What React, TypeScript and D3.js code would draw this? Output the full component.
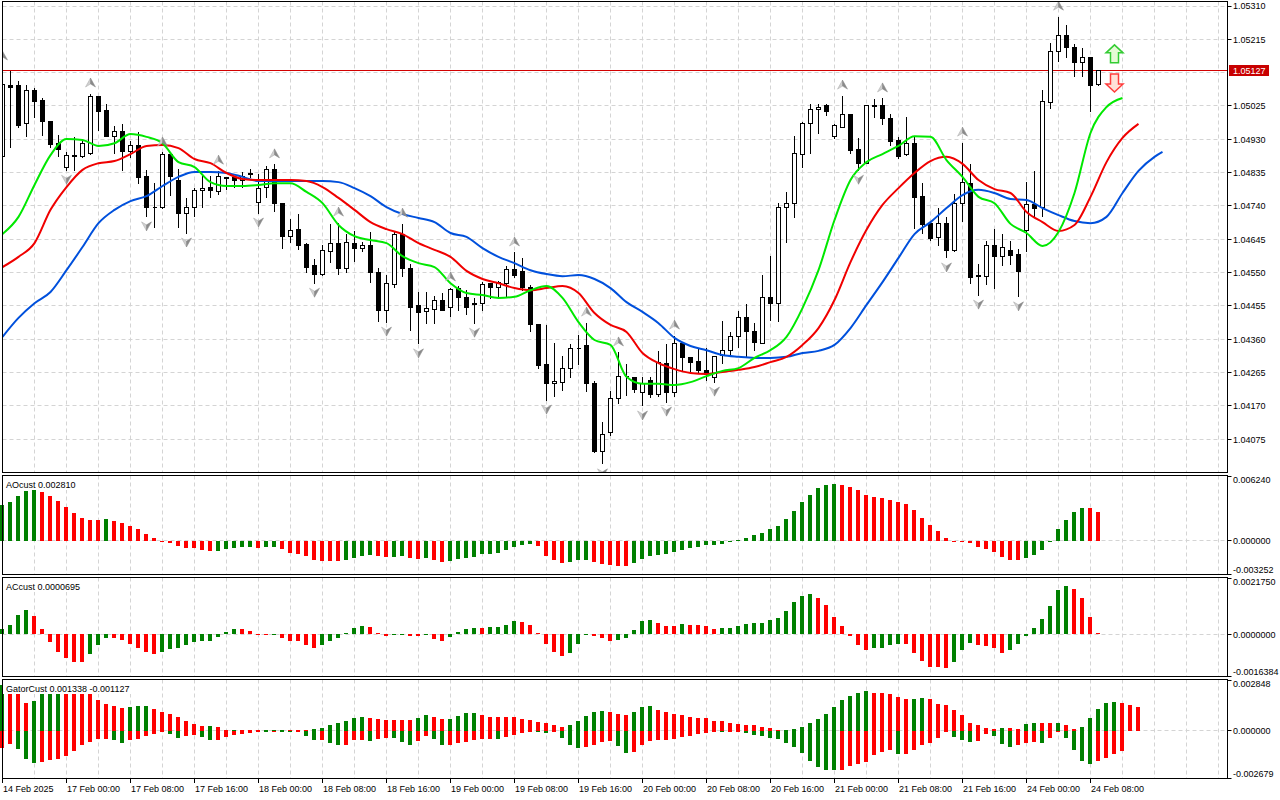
import React from "react";
import * as d3 from "d3";

// EURUSD H1, bar 0 = 14 Feb 2025 16:00
const opens = [
  1.0488, 1.05082, 1.05082, 1.04974, 1.0507, 1.05042, 1.04982, 1.04919, 1.04851, 1.04882,
  1.0488, 1.04891, 1.05051, 1.05011, 1.04939, 1.04951, 1.04894, 1.04911, 1.04823, 1.04737,
  1.04737, 1.04888, 1.04814, 1.0472, 1.04737, 1.04783, 1.04794, 1.0478, 1.0482, 1.0482,
  1.04814, 1.04831, 1.04751, 1.04794, 1.04845, 1.04748, 1.04654, 1.04674, 1.04629, 1.04569,
  1.04546, 1.04609, 1.04632, 1.04563, 1.04634, 1.0462, 1.04626, 1.04549, 1.04441, 1.04515,
  1.0466, 1.04563, 1.04455, 1.04438, 1.04446, 1.04472, 1.04452, 1.04506, 1.04478, 1.04458,
  1.04463, 1.04518, 1.04509, 1.0452, 1.0456, 1.04552, 1.04509, 1.04401, 1.04287, 1.04235,
  1.04238, 1.04278, 1.04335, 1.04341, 1.04235, 1.04039, 1.04093, 1.0419, 1.04255, 1.0425,
  1.04207, 1.04244, 1.04204, 1.0429, 1.04207, 1.04349, 1.04307, 1.04298, 1.04272, 1.0425,
  1.04315, 1.04329, 1.04367, 1.04421, 1.04381, 1.04349, 1.04478, 1.04463, 1.04737, 1.04746,
  1.04888, 1.04976, 1.05014, 1.05025, 1.04937, 1.04965, 1.05002, 1.049, 1.04862, 1.05025,
  1.05025, 1.04988, 1.04928, 1.04888, 1.04919, 1.04766, 1.04689, 1.04649, 1.04691, 1.04612,
  1.04748, 1.04805, 1.04538, 1.0454, 1.04626, 1.04595, 1.04612, 1.04603, 1.04669, 1.04743,
  1.04737, 1.05036, 1.05179, 1.05227, 1.05193, 1.0515, 1.05162, 1.05085,
];
const highs = [
  1.05139, 1.05125, 1.05099, 1.05085, 1.05079, 1.05048, 1.04982, 1.04945, 1.04894, 1.04937,
  1.04931, 1.05062, 1.05051, 1.05033, 1.04968, 1.04976, 1.04928, 1.04951, 1.04845, 1.04808,
  1.04894, 1.04894, 1.04848, 1.04763, 1.04794, 1.04831, 1.04828, 1.04842, 1.04825, 1.04825,
  1.04837, 1.04848, 1.04834, 1.04854, 1.0486, 1.04751, 1.04703, 1.0472, 1.04637, 1.04589,
  1.04629, 1.04689, 1.04694, 1.04663, 1.04669, 1.0464, 1.04666, 1.04566, 1.04546, 1.04666,
  1.04691, 1.04577, 1.04495, 1.04495, 1.04486, 1.04492, 1.04509, 1.04512, 1.04503, 1.04478,
  1.04526, 1.0452, 1.04529, 1.04569, 1.04609, 1.04592, 1.04515, 1.04401, 1.04401, 1.04352,
  1.04315, 1.04349, 1.04375, 1.04409, 1.04244, 1.04127, 1.04213, 1.04324, 1.04292, 1.04255,
  1.04253, 1.04255, 1.04327, 1.04349, 1.04372, 1.04355, 1.04312, 1.04335, 1.04338, 1.04315,
  1.04415, 1.04381, 1.04441, 1.04461, 1.04409, 1.04546, 1.046, 1.04751, 1.0478, 1.04942,
  1.04982, 1.05031, 1.05031, 1.05031, 1.04974, 1.05056, 1.05003, 1.04934, 1.05028, 1.05045,
  1.05048, 1.05005, 1.04937, 1.04994, 1.04937, 1.04808, 1.04694, 1.04737, 1.04709, 1.04777,
  1.04922, 1.0486, 1.04575, 1.04643, 1.04677, 1.04663, 1.04643, 1.0462, 1.04811, 1.04842,
  1.05073, 1.05207, 1.05281, 1.05256, 1.05204, 1.05193, 1.05163, 1.05128,
];
const lows = [
  1.04871, 1.04908, 1.04965, 1.04937, 1.04991, 1.04942, 1.04908, 1.0488, 1.04842, 1.04842,
  1.04877, 1.04888, 1.04954, 1.04937, 1.04891, 1.04842, 1.04877, 1.04805, 1.04709, 1.0468,
  1.04734, 1.04771, 1.0468, 1.04663, 1.04711, 1.04737, 1.04763, 1.04774, 1.04788, 1.04794,
  1.04794, 1.0482, 1.0472, 1.04763, 1.04723, 1.0462, 1.04637, 1.04617, 1.04549, 1.0452,
  1.04543, 1.0458, 1.04546, 1.04549, 1.04583, 1.04609, 1.04523, 1.04412, 1.04409, 1.04509,
  1.04538, 1.04384, 1.04347, 1.04406, 1.04406, 1.04441, 1.04424, 1.04443, 1.04432, 1.04406,
  1.04443, 1.04475, 1.04478, 1.04483, 1.04535, 1.045, 1.04381, 1.04278, 1.04187, 1.04196,
  1.04213, 1.0425, 1.04287, 1.0421, 1.04036, 1.04005, 1.04087, 1.04178, 1.04201, 1.04207,
  1.0417, 1.04193, 1.04196, 1.04181, 1.04196, 1.04267, 1.04267, 1.04264, 1.04244, 1.04238,
  1.04292, 1.0431, 1.04338, 1.04312, 1.04329, 1.04347, 1.04415, 1.04412, 1.04637, 1.04706,
  1.04851, 1.04891, 1.04948, 1.04999, 1.04931, 1.04963, 1.04891, 1.04842, 1.0486, 1.04991,
  1.04971, 1.04911, 1.04874, 1.04885, 1.04677, 1.04663, 1.04643, 1.04626, 1.04592, 1.04609,
  1.04697, 1.0452, 1.04486, 1.04515, 1.04506, 1.04569, 1.04572, 1.04481, 1.04609, 1.04711,
  1.04711, 1.05019, 1.05153, 1.05162, 1.0511, 1.0511, 1.05008, 1.05082,
];
const closes = [
  1.05085, 1.05079, 1.04968, 1.0507, 1.05039, 1.04982, 1.04914, 1.04902, 1.04885, 1.04883,
  1.04919, 1.05051, 1.05008, 1.04939, 1.04951, 1.04894, 1.04911, 1.0482, 1.04737, 1.04736,
  1.04888, 1.04823, 1.0472, 1.04737, 1.04783, 1.04791, 1.04783, 1.04823, 1.04817, 1.04814,
  1.04825, 1.04832, 1.04791, 1.04845, 1.04748, 1.04654, 1.04671, 1.04626, 1.04566, 1.04546,
  1.04612, 1.04634, 1.04563, 1.04637, 1.0462, 1.04626, 1.04549, 1.04441, 1.0452, 1.0466,
  1.04563, 1.04452, 1.04435, 1.04449, 1.04472, 1.04443, 1.04503, 1.04478, 1.04452, 1.04463,
  1.04515, 1.04509, 1.04523, 1.0456, 1.04543, 1.04509, 1.04401, 1.04284, 1.04235, 1.04241,
  1.04278, 1.04335, 1.04334, 1.04235, 1.04039, 1.0409, 1.0419, 1.04255, 1.04253, 1.04218,
  1.04233, 1.04204, 1.04295, 1.04207, 1.04349, 1.04307, 1.04295, 1.0427, 1.04261, 1.04312,
  1.04329, 1.04367, 1.04421, 1.04381, 1.04352, 1.04478, 1.04463, 1.04737, 1.04746, 1.04891,
  1.04976, 1.05014, 1.05022, 1.05008, 1.04968, 1.05002, 1.04897, 1.04862, 1.05025, 1.05024,
  1.04988, 1.04925, 1.04882, 1.04919, 1.04763, 1.04686, 1.04646, 1.04689, 1.04612, 1.04748,
  1.04808, 1.04535, 1.04543, 1.04626, 1.04595, 1.04623, 1.046, 1.04552, 1.04743, 1.04734,
  1.05039, 1.05179, 1.05227, 1.05193, 1.0515, 1.05162, 1.05082, 1.05127,
];

const fractalUp = [0, 11, 20, 27, 34, 42, 50, 56, 64, 73, 77, 84, 105, 110, 120, 132];
const fractalDown = [8, 18, 23, 32, 39, 48, 52, 59, 68, 75, 80, 83, 89, 107, 118, 122, 127];

// Alligator, read every 2 bars (already shifted as drawn)
const lips = [
  1.0466, 1.04709, 1.048, 1.04885, 1.04931, 1.04928, 1.04911, 1.04919, 1.04945, 1.04937,
  1.04919, 1.04865, 1.04851, 1.04808, 1.04797, 1.04797, 1.048, 1.04805, 1.04805, 1.0478,
  1.04748, 1.04686, 1.04654, 1.04643, 1.04634, 1.04597, 1.04577, 1.04566, 1.0452, 1.04492,
  1.04486, 1.04478, 1.04481, 1.045, 1.04512, 1.04478, 1.04409, 1.04358, 1.04344, 1.04253,
  1.04233, 1.04233, 1.0423, 1.04238, 1.04255, 1.0427, 1.04278, 1.04307, 1.04329, 1.04367,
  1.04449, 1.04557, 1.047, 1.04814, 1.04865, 1.04888, 1.04911, 1.04939, 1.04937, 1.04871,
  1.04823, 1.04766, 1.04748, 1.04689, 1.04663, 1.04626, 1.04666, 1.04777, 1.04948, 1.05022,
  1.05048,
];
const teeth = [
  1.04566, 1.04595, 1.04634, 1.04729, 1.04794, 1.04843, 1.04862, 1.04868, 1.04888, 1.04911,
  1.04914, 1.04905, 1.04874, 1.04862, 1.04834, 1.04817, 1.04814, 1.04814, 1.04814, 1.04811,
  1.04794, 1.04763, 1.04729, 1.04694, 1.04674, 1.0466, 1.04634, 1.04615, 1.04595, 1.04555,
  1.04532, 1.0452, 1.04506, 1.045, 1.04506, 1.04512, 1.04492, 1.04435, 1.04401, 1.04381,
  1.04321, 1.04292, 1.04275, 1.04264, 1.04261, 1.04267, 1.04273, 1.04281, 1.04295, 1.0431,
  1.04344, 1.04392, 1.04472, 1.0458, 1.04672, 1.04743, 1.04791, 1.04834, 1.04868, 1.0488,
  1.0486, 1.04814, 1.04788, 1.04777, 1.04723, 1.04694, 1.04669, 1.04686, 1.04766, 1.04865,
  1.04934, 1.04974,
];
const jaws = [
  1.04367, 1.04421, 1.04463, 1.04495, 1.04557, 1.04623, 1.04691, 1.04729, 1.04754, 1.04768,
  1.04797, 1.04823, 1.04837, 1.04837, 1.04834, 1.04823, 1.04811, 1.04811, 1.04811, 1.04811,
  1.04811, 1.04808, 1.04791, 1.04768, 1.04737, 1.04717, 1.04706, 1.04694, 1.04663, 1.04652,
  1.0462, 1.04595, 1.04577, 1.04557, 1.04546, 1.0454, 1.04543, 1.04532, 1.04506, 1.04466,
  1.04438, 1.04406, 1.04364, 1.04341, 1.04329, 1.04315, 1.0431, 1.04307, 1.04307, 1.0431,
  1.04321, 1.04327, 1.04344, 1.04392, 1.04458, 1.04523, 1.04592, 1.0466, 1.04694, 1.04734,
  1.04771, 1.04786, 1.04777, 1.0476, 1.04757, 1.04734, 1.04714, 1.04697, 1.04691, 1.04709,
  1.04777, 1.0484, 1.0488,
];
const jawsLastBar = 145;
const jawsLast = 1.04894;

const ao = [
  0.003469, 0.003758, 0.004308, 0.004818, 0.004915, 0.004722, 0.004308, 0.003855, 0.003276, 0.002669,
  0.002245, 0.002024, 0.001995, 0.002091, 0.001898, 0.001706, 0.001417, 0.001127, 0.000646, 0.00026,
  -0.000048, -0.000164, -0.000482, -0.000646, -0.000665, -0.000867, -0.000964, -0.000944, -0.000742, -0.000646,
  -0.000578, -0.000559, -0.000646, -0.000626, -0.000607, -0.000742, -0.001127, -0.001224, -0.001446, -0.001831,
  -0.001927, -0.001947, -0.001966, -0.001831, -0.001667, -0.001446, -0.001349, -0.001446, -0.001542, -0.001513,
  -0.001474, -0.001609, -0.001706, -0.001609, -0.001831, -0.002024, -0.001927, -0.001706, -0.001609, -0.001542,
  -0.001282, -0.001224, -0.001127, -0.000896, -0.000578, -0.000385, -0.00026, -0.000482, -0.001446, -0.00186,
  -0.002091, -0.002024, -0.00186, -0.001831, -0.001995, -0.002245, -0.002313, -0.002409, -0.002438, -0.002149,
  -0.001764, -0.001446, -0.001349, -0.001224, -0.00106, -0.000896, -0.000703, -0.000578, -0.000414, -0.000366,
  -0.000318, -0.000125, 0.000067, 0.000289, 0.000549, 0.000742, 0.001127, 0.001417, 0.002091, 0.002862,
  0.003729, 0.004404, 0.005079, 0.005464, 0.005493, 0.005445, 0.005271, 0.004886, 0.004462, 0.004269,
  0.004115, 0.003951, 0.003729, 0.003537, 0.002987, 0.002216, 0.001513, 0.000935, 0.00026, -0.000048,
  -0.000096, -0.000193, -0.000549, -0.000771, -0.00106, -0.001513, -0.001831, -0.00186, -0.001638, -0.001378,
  -0.000896, -0.000067, 0.001127, 0.001995, 0.002766, 0.00318, 0.003161, 0.00281,
];
const ac = [
  0.0002, 0.000351, 0.000742, 0.000937, 0.000703, 0.000195, -0.000301, -0.000675, -0.000937, -0.001066,
  -0.001081, -0.000781, -0.000429, -0.000156, -0.00016, -0.000234, -0.00039, -0.000546, -0.000691, -0.000781,
  -0.000691, -0.000585, -0.000546, -0.000429, -0.000301, -0.000262, -0.000254, -0.000105, 0.000105, 0.000195,
  0.000191, 0.000129, -0.000027, -0.000031, -0.00002, -0.000129, -0.000262, -0.000265, -0.000418, -0.000535,
  -0.000418, -0.000262, -0.000129, 0.000027, 0.000234, 0.000312, 0.000273, 0.000047, -0.000066, -0.000027,
  -0.000012, -0.000051, -0.000055, -0.000012, -0.000168, -0.000262, -0.000105, 0.000078, 0.000195, 0.000234,
  0.00023, 0.000285, 0.000289, 0.000351, 0.000507, 0.000468, 0.000351, 0.000027, -0.000363, -0.000691,
  -0.000847, -0.000714, -0.00039, -0.000012, -0.000066, -0.000129, -0.000262, -0.000222, -0.000144, 0.000156,
  0.000507, 0.000546, 0.000429, 0.000312, 0.000308, 0.00039, 0.000351, 0.000347, 0.000312, 0.000195,
  0.000234, 0.000246, 0.000324, 0.00039, 0.000429, 0.000433, 0.000546, 0.000624, 0.000909, 0.001261,
  0.001483, 0.001561, 0.001405, 0.001132, 0.000664, 0.000312, -0.000051, -0.000418, -0.000613, -0.000535,
  -0.000531, -0.000418, -0.000379, -0.000383, -0.000714, -0.001054, -0.001276, -0.00128, -0.001315, -0.001081,
  -0.000613, -0.00034, -0.000418, -0.000468, -0.000535, -0.00073, -0.000613, -0.000379, -0.000066, 0.000262,
  0.000585, 0.001093, 0.001706, 0.001862, 0.001756, 0.001405, 0.000664, 0.0000695,
];
const gatorUpper = [
  0.0026, 0.002538, 0.00207, 0.001596, 0.001692, 0.002538, 0.002594, 0.002611, 0.002594, 0.002583,
  0.002572, 0.002538, 0.001765, 0.00154, 0.00141, 0.00128, 0.001354, 0.001393, 0.001399, 0.001258,
  0.001089, 0.000942, 0.00079, 0.000564, 0.000378, 0.000265, 0.000271, 0.000226, 0.000039, 0.000073,
  0.000056, 0.000039, 0.000034, 0.000045, 0.000056, 0.000073, 0.000056, 0.000039, 0.000017, 0.000113,
  0.000152, 0.000338, 0.000451, 0.000564, 0.00075, 0.000756, 0.000716, 0.00066, 0.000637, 0.00062,
  0.000603, 0.000598, 0.000716, 0.000902, 0.000807, 0.00066, 0.000666, 0.000829, 0.000998, 0.001004,
  0.000902, 0.000807, 0.00079, 0.000773, 0.000767, 0.00066, 0.000603, 0.000525, 0.000434, 0.000338,
  0.000243, 0.000338, 0.000564, 0.000829, 0.001055, 0.001111, 0.001089, 0.000942, 0.000902, 0.001055,
  0.001354, 0.00141, 0.001201, 0.001055, 0.000976, 0.000902, 0.000807, 0.00075, 0.000716, 0.000581,
  0.000547, 0.000468, 0.000412, 0.000338, 0.000333, 0.000209, 0.000152, 0.000039, 0.000073, 0.00013,
  0.000243, 0.000468, 0.00066, 0.000942, 0.001354, 0.001731, 0.001974, 0.00216, 0.002239, 0.00216,
  0.002154, 0.00207, 0.001918, 0.001788, 0.001805, 0.001844, 0.001788, 0.00154, 0.00145, 0.001167,
  0.000902, 0.000468, 0.000338, 0.000152, 0.000096, 0.000186, 0.000152, 0.000096, 0.000378, 0.000468,
  0.000434, 0.000429, 0.000468, 0.000321, 0.00013, 0.000243, 0.00075, 0.001258, 0.001596, 0.001653,
  0.001596, 0.00145, 0.001338,
];
// lower histogram, magnitudes (drawn below zero)
const gatorLower = [
  0.000942, 0.00075, 0.001032, 0.001596, 0.001805, 0.001731, 0.001653, 0.001596, 0.00141, 0.001128,
  0.00079, 0.00062, 0.000468, 0.000462, 0.000508, 0.00066, 0.000491, 0.000468, 0.000282, 0.000152,
  0.000039, 0.000152, 0.000378, 0.000282, 0.000226, 0.000338, 0.000508, 0.000496, 0.000321, 0.000226,
  0.000152, 0.000096, 0.000039, 0.000045, 0.000028, 0.000056, 0.000062, 0.000017, 0.000282, 0.000508,
  0.000502, 0.000677, 0.000807, 0.00079, 0.000508, 0.000502, 0.000564, 0.000479, 0.000412, 0.000423,
  0.00062, 0.00079, 0.000564, 0.000282, 0.000468, 0.00079, 0.000784, 0.000677, 0.00062, 0.000508,
  0.000434, 0.000429, 0.000468, 0.000338, 0.000226, 0.000113, 0.000039, 0.000056, 0.000113, 0.000039,
  0.000412, 0.00079, 0.000976, 0.000902, 0.00079, 0.000637, 0.000564, 0.000846, 0.001258, 0.001184,
  0.00079, 0.000564, 0.000508, 0.000491, 0.000434, 0.000355, 0.000265, 0.000169, 0.000096, 0.000039,
  0.000056, 0.000045, 0.000039, 0.00013, 0.000226, 0.000282, 0.000412, 0.000468, 0.000694, 0.000902,
  0.001258, 0.001692, 0.002013, 0.002183, 0.002217, 0.0022, 0.001991, 0.001878, 0.001731, 0.001371,
  0.001167, 0.001089, 0.001314, 0.00128, 0.001089, 0.00079, 0.00066, 0.000378, 0.000056, 0.000338,
  0.000525, 0.000603, 0.000564, 0.000186, 0.000282, 0.00075, 0.000902, 0.00079, 0.000677, 0.00062,
  0.000677, 0.000378, 0.000056, 0.000378, 0.001089, 0.001692, 0.001844, 0.001692, 0.00154, 0.001314,
  0.001127,
];

const priceTicks = [
  1.0531, 1.05215, 1.0512, 1.05025, 1.0493, 1.04835, 1.0474, 1.04645, 1.0455, 1.04455,
  1.0436, 1.04265, 1.0417, 1.04075,
];
const lastPrice = 1.05127;
const aoTicks = [0.00624, 0, -0.003252];
const acTicks = [0.002175, 0, -0.0016384];
const gatorTicks = [0.002848, 0, -0.002679];
const timeLabels = [
  "14 Feb 2025", "17 Feb 00:00", "17 Feb 08:00", "17 Feb 16:00", "18 Feb 00:00", "18 Feb 08:00",
  "18 Feb 16:00", "19 Feb 00:00", "19 Feb 08:00", "19 Feb 16:00", "20 Feb 00:00", "20 Feb 08:00",
  "20 Feb 16:00", "21 Feb 00:00", "21 Feb 08:00", "21 Feb 16:00", "24 Feb 00:00", "24 Feb 08:00",
];
const timeLabelBars = [0, 8, 16, 24, 32, 40, 48, 56, 64, 72, 80, 88, 96, 104, 112, 120, 128, 136];
const signalBar = 139;
const signalUpPrice = 1.05148;
const signalDownPrice = 1.05116;

const FONT = "Tahoma, 'Liberation Sans', Arial, sans-serif";
const GREEN = "#008000";
const RED = "#ff0000";
const GRID = "#d4d4d4";
const L = 2.5;
const R = 1227.5;

const panels = {
  main: { top: 1.5, bottom: 472.5 },
  ao: { top: 475.5, bottom: 574.5 },
  ac: { top: 577.5, bottom: 676.5 },
  gator: { top: 679.5, bottom: 778.5 },
};

const x = d3.scaleLinear().domain([0, 1]).range([2.5, 10.5]);
const y = d3.scaleLinear().domain([1.0531, 1.04075]).range([6, 439.3]);
const aoY = d3.scaleLinear().domain([-0.003252, 0.00624]).range([574.5, 476.5]);
const acY = d3.scaleLinear().domain([-0.0016384, 0.002175]).range([676.5, 578.3]);
const gatorY = d3.scaleLinear().domain([-0.002679, 0.002848]).range([778.5, 680.3]);

const snap = (v: number) => Math.round(v - 0.5) + 0.5;

function Bars({ values, scale, sign = 1, up }: { values: number[]; scale: d3.ScaleLinear<number, number>; sign?: number; up: (i: number) => boolean }) {
  const zero = scale(0);
  return (
    <g shapeRendering="crispEdges">
      {values.map((v, i) => {
        const yv = scale(sign * v);
        let y0 = Math.min(zero, yv);
        let h = Math.abs(yv - zero);
        if (h < 1) {
          h = 1;
          y0 = sign * v >= 0 ? zero - 1 : zero;
        }
        return <rect key={i} x={x(i) - 2.5} y={y0} width={4} height={h} fill={up(i) ? GREEN : RED} />;
      })}
    </g>
  );
}

function PanelGrid({ top, bottom }: { top: number; bottom: number }) {
  const vgrid = d3.range(1, 39).map((k) => x(k * 4));
  return (
    <g>
      {vgrid.map((gx, k) => (
        <line key={k} x1={gx} x2={gx} y1={top} y2={bottom} stroke={GRID} strokeDasharray="4,3" />
      ))}
    </g>
  );
}

function Header({ text, top }: { text: string; top: number }) {
  // short name drawn on a white plate, like the terminal does
  return (
    <g>
      <rect x={3} y={top + 0.5} width={text.length * 4.8 + 6} height={14} fill="#fff" />
      <text x={6} y={top + 12.5} fontSize={9} fontFamily={FONT}>
        {text}
      </text>
    </g>
  );
}

function AxisLabels({ ticks, scale, top, bottom, digits }: { ticks: number[]; scale: d3.ScaleLinear<number, number>; top: number; bottom: number; digits: number }) {
  return (
    <g>
      {ticks.map((t, i) => {
        const ty = snap(scale(t));
        const cy = Math.max(top + 4.5, Math.min(bottom - 4.8, scale(t)));
        return (
          <g key={i}>
            <line x1={R} x2={R + 4} y1={ty} y2={ty} stroke="#000" />
            <text x={1233} y={cy + 3.2} fontSize={9} fontFamily={FONT}>
              {t.toFixed(digits)}
            </text>
          </g>
        );
      })}
    </g>
  );
}

function upArrow(cx: number, cy: number) {
  return {
    left: `M${cx},${cy - 5} L${cx - 5},${cy + 4} L${cx},${cy + 1} Z`,
    right: `M${cx},${cy - 5} L${cx + 5},${cy + 4} L${cx},${cy + 1} Z`,
  };
}
function downArrow(cx: number, cy: number) {
  return {
    left: `M${cx},${cy + 5} L${cx - 5},${cy - 4} L${cx},${cy - 1} Z`,
    right: `M${cx},${cy + 5} L${cx + 5},${cy - 4} L${cx},${cy - 1} Z`,
  };
}

export default function App() {
  const line = d3
    .line<[number, number]>()
    .x((d) => x(d[0]))
    .y((d) => y(d[1]))
    .curve(d3.curveMonotoneX);
  const lipsPts = lips.map((v, i) => [i * 2, v] as [number, number]);
  const teethPts = teeth.map((v, i) => [i * 2, v] as [number, number]);
  const jawsPts = jaws.map((v, i) => [i * 2, v] as [number, number]).concat([[jawsLastBar, jawsLast]]);

  const hGrid = priceTicks.map((p) => snap(y(p)));
  const lastY = snap(y(lastPrice));
  const sx = x(signalBar);
  const upBottom = y(signalUpPrice);
  const downTop = y(signalDownPrice);

  return (
    <div style={{ position: "absolute", left: 0, top: 0, width: 1280, height: 800, background: "#fff" }}>
      <svg width={1280} height={800} style={{ display: "block" }}>
        <defs>
          <clipPath id="clip-main">
            <rect x={3} y={2} width={R - 3} height={panels.main.bottom - 2} />
          </clipPath>
        </defs>
        <rect x={0} y={0} width={1280} height={800} fill="#fff" />

        {/* main price panel */}
        <PanelGrid {...panels.main} />
        {hGrid.map((gy, i) => (
          <line key={i} x1={L} x2={R} y1={gy} y2={gy} stroke={GRID} strokeDasharray="4,3" />
        ))}
        <g clipPath="url(#clip-main)">
          <line x1={L} x2={R} y1={lastY} y2={lastY} stroke="#d20000" />
          <g shapeRendering="crispEdges">
            {opens.map((o, i) => {
              const c = closes[i];
              const cx = x(i);
              const yt = snap(y(Math.max(o, c)));
              const yb = snap(y(Math.min(o, c)));
              const bull = c > o;
              return (
                <g key={i}>
                  <line x1={cx} x2={cx} y1={snap(y(highs[i]))} y2={snap(y(lows[i]))} stroke="#000" />
                  <path
                    d={`M${cx - 2},${yt} H${cx + 2} V${yb} H${cx - 2} Z`}
                    fill={bull ? "#fff" : "#000"}
                    stroke="#000"
                  />
                </g>
              );
            })}
          </g>
          <path d={line(jawsPts) || ""} fill="none" stroke="#0050dc" strokeWidth={2} />
          <path d={line(teethPts) || ""} fill="none" stroke="#f00000" strokeWidth={2} />
          <path d={line(lipsPts) || ""} fill="none" stroke="#00e800" strokeWidth={2} />
          {fractalUp.map((i) => {
            const a = upArrow(x(i), y(highs[i]) - 10);
            return (
              <g key={"u" + i}>
                <path d={a.left} fill="#d0d0d0" stroke="#a8a8a8" strokeWidth={0.5} />
                <path d={a.right} fill="#8a8a8a" stroke="#8a8a8a" strokeWidth={0.5} />
              </g>
            );
          })}
          {fractalDown.map((i) => {
            const a = downArrow(x(i), y(lows[i]) + 9);
            return (
              <g key={"d" + i}>
                <path d={a.left} fill="#d0d0d0" stroke="#a8a8a8" strokeWidth={0.5} />
                <path d={a.right} fill="#8a8a8a" stroke="#8a8a8a" strokeWidth={0.5} />
              </g>
            );
          })}
          {/* signal arrows */}
          <path
            d={`M${sx},${upBottom - 18} L${sx + 8.5},${upBottom - 10} L${sx + 4},${upBottom - 10} L${sx + 4},${upBottom} L${sx - 4},${upBottom} L${sx - 4},${upBottom - 10} L${sx - 8.5},${upBottom - 10} Z`}
            fill="#e6fbd6"
            stroke="#33cc33"
            strokeWidth={1.5}
          />
          <path
            d={`M${sx},${downTop + 18} L${sx + 8.5},${downTop + 10} L${sx + 4},${downTop + 10} L${sx + 4},${downTop} L${sx - 4},${downTop} L${sx - 4},${downTop + 10} L${sx - 8.5},${downTop + 10} Z`}
            fill="#ffe0d8"
            stroke="#ff3c3c"
            strokeWidth={1.5}
          />
        </g>
        <rect x={L} y={panels.main.top} width={R - L} height={panels.main.bottom - panels.main.top} fill="none" stroke="#000" shapeRendering="crispEdges" />
        {priceTicks.map((p, i) =>
          Math.abs(y(p) - y(lastPrice)) < 8 ? null : (
            <g key={i}>
              <line x1={R} x2={R + 4} y1={hGrid[i]} y2={hGrid[i]} stroke="#000" />
              <text x={1233} y={y(p) + 3.2} fontSize={9} fontFamily={FONT}>
                {p.toFixed(5)}
              </text>
            </g>
          )
        )}
        <rect x={1229} y={lastY - 5.5} width={40} height={11} fill="#c80000" />
        <text x={1233} y={lastY + 3.5} fontSize={9} fontFamily={FONT} fill="#fff">
          {lastPrice.toFixed(5)}
        </text>

        {/* AO */}
        <PanelGrid {...panels.ao} />
        <line x1={L} x2={R} y1={snap(aoY(0))} y2={snap(aoY(0))} stroke={GRID} strokeDasharray="4,3" />
        <Bars values={ao} scale={aoY} up={(i) => i === 0 || ao[i] > ao[i - 1]} />
        <Header text={`AOcust ${ao[ao.length - 1].toFixed(6)}`} top={panels.ao.top} />
        <rect x={L} y={panels.ao.top} width={R - L} height={panels.ao.bottom - panels.ao.top} fill="none" stroke="#000" shapeRendering="crispEdges" />
        <AxisLabels ticks={aoTicks} scale={aoY} {...panels.ao} digits={6} />

        {/* AC */}
        <PanelGrid {...panels.ac} />
        <line x1={L} x2={R} y1={snap(acY(0))} y2={snap(acY(0))} stroke={GRID} strokeDasharray="4,3" />
        <Bars values={ac} scale={acY} up={(i) => i === 0 || ac[i] > ac[i - 1]} />
        <Header text={`ACcust ${ac[ac.length - 1].toFixed(7)}`} top={panels.ac.top} />
        <rect x={L} y={panels.ac.top} width={R - L} height={panels.ac.bottom - panels.ac.top} fill="none" stroke="#000" shapeRendering="crispEdges" />
        <AxisLabels ticks={acTicks} scale={acY} {...panels.ac} digits={7} />

        {/* Gator */}
        <PanelGrid {...panels.gator} />
        <line x1={L} x2={R} y1={snap(gatorY(0))} y2={snap(gatorY(0))} stroke={GRID} strokeDasharray="4,3" />
        <Bars values={gatorUpper} scale={gatorY} up={(i) => i === 0 || gatorUpper[i] > gatorUpper[i - 1]} />
        <Bars values={gatorLower} scale={gatorY} sign={-1} up={(i) => i > 0 && gatorLower[i] > gatorLower[i - 1]} />
        <Header
          text={`GatorCust ${gatorUpper[gatorUpper.length - 1].toFixed(6)} ${(-gatorLower[gatorLower.length - 1]).toFixed(6)}`}
          top={panels.gator.top}
        />
        <rect x={L} y={panels.gator.top} width={R - L} height={panels.gator.bottom - panels.gator.top} fill="none" stroke="#000" shapeRendering="crispEdges" />
        <AxisLabels ticks={gatorTicks} scale={gatorY} {...panels.gator} digits={6} />

        {/* time axis */}
        {timeLabelBars.map((b, i) => (
          <g key={i}>
            <line x1={x(b)} x2={x(b)} y1={778.5} y2={783} stroke="#000" />
            <text x={x(b) + 0.5} y={791.5} fontSize={9} fontFamily={FONT}>
              {timeLabels[i]}
            </text>
          </g>
        ))}
      </svg>
    </div>
  );
}
